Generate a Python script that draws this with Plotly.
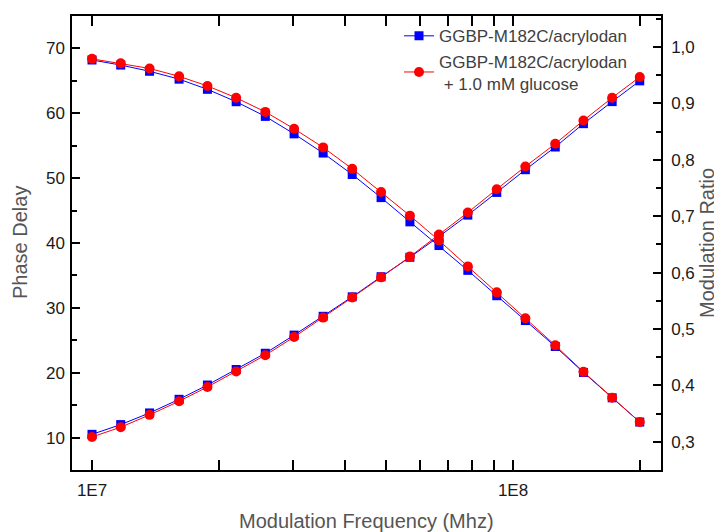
import plotly.graph_objects as go

freq = [1.0e7, 1.17e7, 1.37e7, 1.61e7, 1.88e7, 2.20e7, 2.58e7, 3.02e7, 3.54e7, 4.15e7,
        4.86e7, 5.69e7, 6.67e7, 7.81e7, 9.15e7, 1.07e8, 1.26e8, 1.47e8, 1.72e8, 2.0e8]

# Phase delay (left axis)
phase_apo = [10.5, 12.0, 13.8, 15.9, 18.1, 20.5, 23.0, 25.8, 28.7, 31.7,
             34.8, 37.8, 41.0, 44.3, 47.8, 51.3, 54.8, 58.4, 61.8, 65.0]
phase_glc = [10.1, 11.6, 13.5, 15.6, 17.8, 20.2, 22.7, 25.5, 28.5, 31.6,
             34.7, 37.9, 41.3, 44.7, 48.3, 51.8, 55.3, 58.9, 62.4, 65.6]

# Modulation ratio (right axis)
mod_apo = [0.977, 0.968, 0.957, 0.943, 0.925, 0.903, 0.877, 0.846, 0.812, 0.774,
           0.733, 0.690, 0.648, 0.604, 0.559, 0.515, 0.469, 0.423, 0.378, 0.335]
mod_glc = [0.979, 0.971, 0.962, 0.948, 0.931, 0.910, 0.885, 0.855, 0.822, 0.784,
           0.743, 0.701, 0.657, 0.611, 0.565, 0.519, 0.471, 0.424, 0.378, 0.335]

name_apo = "GGBP-M182C/acrylodan"
name_glc = "GGBP-M182C/acrylodan<br> + 1.0 mM glucose"

left_ticks = [10, 20, 30, 40, 50, 60, 70]
right_ticks = [0.3, 0.4, 0.5, 0.6, 0.7, 0.8, 0.9, 1.0]
right_text = ["0,3", "0,4", "0,5", "0,6", "0,7", "0,8", "0,9", "1,0"]
x_ticks = [1e7, 1e8]
x_text = ["1E7", "1E8"]

BLUE = "#0000FF"
RED = "#FF0000"
FONT = "Liberation Sans, Arial, sans-serif"
TITLE_FONT = dict(family=FONT, size=20, color="#555555")

fig = go.Figure()
blue_style = dict(mode="lines+markers", line=dict(color=BLUE, width=1),
                  marker=dict(symbol="square", size=9, color=BLUE))
red_style = dict(mode="lines+markers", line=dict(color=RED, width=1),
                 marker=dict(symbol="circle", size=10, color=RED))

fig.add_trace(go.Scatter(x=freq, y=phase_apo, name=name_apo, legendgroup="a", **blue_style))
fig.add_trace(go.Scatter(x=freq, y=mod_apo, name=name_apo, legendgroup="a", showlegend=False,
                         yaxis="y2", **blue_style))
fig.add_trace(go.Scatter(x=freq, y=phase_glc, name=name_glc, legendgroup="b", **red_style))
fig.add_trace(go.Scatter(x=freq, y=mod_glc, name=name_glc, legendgroup="b", showlegend=False,
                         yaxis="y2", **red_style))

axis_common = dict(showgrid=False, zeroline=False, showline=True, linecolor="black", linewidth=1.5,
                   ticks="inside", tickcolor="black", tickwidth=1.5, automargin=False,
                   tickfont=dict(family=FONT, size=17, color="#1a1a1a"))

# the page body adds an 8px offset, so the figure is sized to the remaining window
W, H = 714, 524
L, T = 64, 8
pw, ph = 589, 454
R, B = W - L - pw, H - T - ph

fig.update_layout(
    width=W, height=H,
    margin=dict(l=L, r=R, t=T, b=B),
    paper_bgcolor="white", plot_bgcolor="white",
    font=dict(family=FONT),
    showlegend=True,
    legend=dict(x=327 / pw, y=0.995, xanchor="left", yanchor="top",
                bgcolor="rgba(0,0,0,0)", font=dict(family=FONT, size=17, color="#404040"),
                tracegroupgap=0, itemwidth=30),
    xaxis=dict(type="log", range=[6.9525, 8.3515], tickvals=x_ticks, ticktext=x_text,
               ticklen=10, mirror="allticks", ticklabelstandoff=4,
               minor=dict(tickvals=[2e7, 3e7, 4e7, 5e7, 6e7, 7e7, 8e7, 9e7, 2e8],
                          ticks="inside", ticklen=5, tickcolor="black", tickwidth=1.5),
               **axis_common),
    yaxis=dict(range=[5, 75], tickvals=left_ticks, ticklen=8, ticklabelstandoff=2,
               minor=dict(tickvals=[15, 25, 35, 45, 55, 65], ticks="inside", ticklen=5,
                          tickcolor="black", tickwidth=1.5),
               **axis_common),
    yaxis2=dict(range=[0.25, 1.055], overlaying="y", side="right", tickvals=right_ticks,
                ticktext=right_text, ticklen=8, ticklabelstandoff=5,
                minor=dict(tickvals=[0.35, 0.45, 0.55, 0.65, 0.75, 0.85, 0.95, 1.05], ticks="inside",
                           ticklen=5, tickcolor="black", tickwidth=1.5),
                **axis_common),
    annotations=[
        dict(text="Modulation Frequency (Mhz)", xref="paper", yref="paper",
             x=0.5, y=-51 / ph, xanchor="center", yanchor="middle",
             showarrow=False, font=TITLE_FONT),
        dict(text="Phase Delay", xref="paper", yref="paper",
             x=-52 / pw, y=0.5, xanchor="center", yanchor="middle", textangle=-90,
             showarrow=False, font=TITLE_FONT),
        dict(text="Modulation Ratio", xref="paper", yref="paper",
             x=(pw + 46) / pw, y=0.5, xanchor="center", yanchor="middle", textangle=-90,
             showarrow=False, font=TITLE_FONT),
    ],
)

fig.write_html("out.html")
